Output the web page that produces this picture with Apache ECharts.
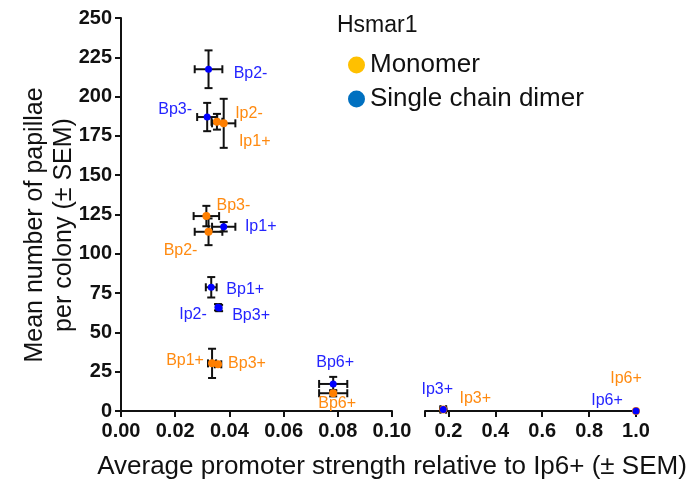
<!DOCTYPE html>
<html>
<head>
<meta charset="utf-8">
<script src="https://cdn.jsdelivr.net/npm/echarts@6/dist/echarts.min.js"></script>
<style>
  html, body { margin: 0; padding: 0; background: #fff; }
  #chart { width: 697px; height: 482px; }
</style>
</head>
<body>
<div id="chart"></div>
<script>
// promoter names, same order in every array below
var monomerNames = ['Ip2-', 'Ip1+', 'Bp3-', 'Bp2-', 'Bp1+', 'Bp3+', 'Bp6+', 'Ip3+', 'Ip6+'];
var monomerX     = [0.0354, 0.0379, 0.0315, 0.0323, 0.0336, 0.0358, 0.0783, 0.178, 1.0];
var monomerY     = [184, 183, 124, 114, 30.3, 29.7, 11.3, 1, 0];
var monomerXErr  = [0.002, 0.0043, 0.0047, 0.0051, 0.0015, 0.0012, 0.0052, 0.012, 0];
var monomerYErr  = [5, 15.6, 6.5, 8.5, 9.3, 1.5, 2, 0.5, 0];

var dimerNames = ['Bp2-', 'Bp3-', 'Ip1+', 'Bp1+', 'Ip2-', 'Bp3+', 'Bp6+', 'Ip3+', 'Ip6+'];
var dimerX     = [0.0323, 0.0318, 0.0379, 0.0333, 0.0358, 0.0362, 0.0783, 0.178, 1.0];
var dimerY     = [217.4, 187, 117.2, 78.7, 66, 65.5, 17.2, 1, 0];
var dimerXErr  = [0.0051, 0.0037, 0.0043, 0.002, 0.0008, 0.0008, 0.0052, 0.012, 0];
var dimerYErr  = [12, 9, 3, 6.5, 2, 2, 4.5, 0.5, 0];

var rightTicks  = [0.1, 0.2, 0.4, 0.6, 0.8, 1.0];
var rightLabels = [0.2, 0.4, 0.6, 0.8, 1.0];

// where each point label sits relative to its point (px)
var monomerLabelOffset = {
    'Ip2-': [32, -8], 'Ip1+': [31, 18], 'Bp3-': [27, -10], 'Bp2-': [-28, 19],
    'Bp1+': [-27, -3], 'Bp3+': [29, -1], 'Bp6+': [4, 10], 'Ip3+': [32, -11], 'Ip6+': [-10, -32]
};
var dimerLabelOffset = {
    'Bp2-': [42, 4], 'Bp3-': [-32, -7], 'Ip1+': [37, 0], 'Bp1+': [34, 2],
    'Ip2-': [-25, 7], 'Bp3+': [32, 8], 'Bp6+': [2, -21], 'Ip3+': [-6, -20], 'Ip6+': [-29, -10]
};

var FONT = 'Liberation Sans, Arial, sans-serif';
var BREAK = 0.1;

function rows(names, xs, ys, xe, ye, right) {
    var out = [];
    for (var i = 0; i < names.length; i++) {
        if ((xs[i] > BREAK) === right) {
            out.push({name: names[i], value: [xs[i], ys[i], xe[i], ye[i]]});
        }
    }
    return out;
}

function renderErr(params, api) {
    var x = api.value(0), y = api.value(1), ex = api.value(2), ey = api.value(3);
    var cap = 4;
    var style = {stroke: '#111', lineWidth: 2};
    var kids = [];
    if (ex > 0) {
        var l = api.coord([x - ex, y]), r = api.coord([x + ex, y]);
        kids.push({type: 'line', shape: {x1: l[0], y1: l[1], x2: r[0], y2: r[1]}, style: style});
        kids.push({type: 'line', shape: {x1: l[0], y1: l[1] - cap, x2: l[0], y2: l[1] + cap}, style: style});
        kids.push({type: 'line', shape: {x1: r[0], y1: r[1] - cap, x2: r[0], y2: r[1] + cap}, style: style});
    }
    if (ey > 0) {
        var t = api.coord([x, y + ey]), b = api.coord([x, y - ey]);
        kids.push({type: 'line', shape: {x1: t[0], y1: t[1], x2: b[0], y2: b[1]}, style: style});
        kids.push({type: 'line', shape: {x1: t[0] - cap, y1: t[1], x2: t[0] + cap, y2: t[1]}, style: style});
        kids.push({type: 'line', shape: {x1: b[0] - cap, y1: b[1], x2: b[0] + cap, y2: b[1]}, style: style});
    }
    return {type: 'group', children: kids};
}

function errSeries(data, idx) {
    return {
        type: 'custom', xAxisIndex: idx, yAxisIndex: idx,
        renderItem: renderErr, encode: {x: 0, y: 1},
        data: data, z: 2, silent: true, clip: false
    };
}

function pointSeries(name, data, idx, color, textColor, size, offsets) {
    return {
        name: name, type: 'scatter', xAxisIndex: idx, yAxisIndex: idx,
        data: data.map(function (d) {
            return {
                name: d.name, value: d.value,
                label: {offset: offsets[d.name]}
            };
        }),
        symbolSize: size, z: 3,
        itemStyle: {color: color, opacity: 1},
        label: {
            show: true, position: 'inside', formatter: '{b}',
            color: textColor, fontFamily: FONT, fontSize: 16
        }
    };
}

var axisLine = {lineStyle: {color: '#111', width: 2}};
var tickStyle = {show: true, length: 6, lineStyle: {color: '#111', width: 2}};
var tickLabel = {color: '#111', fontFamily: FONT, fontSize: 20, fontWeight: 'bold'};

var mLeft = rows(monomerNames, monomerX, monomerY, monomerXErr, monomerYErr, false);
var mRight = rows(monomerNames, monomerX, monomerY, monomerXErr, monomerYErr, true);
var dLeft = rows(dimerNames, dimerX, dimerY, dimerXErr, dimerYErr, false);
var dRight = rows(dimerNames, dimerX, dimerY, dimerXErr, dimerYErr, true);

var orange = '#ff7f00', orangeText = '#ff8a10';
var blue = '#0000ff', blueText = '#2424ff';

var option = {
    animation: false,
    title: {
        text: 'Hsmar1', left: 332, top: 9,
        textStyle: {fontFamily: FONT, fontSize: 23, fontWeight: 'normal', color: '#111'}
    },
    legend: {
        left: 343, top: 47, orient: 'vertical', itemGap: 8,
        icon: 'circle', itemWidth: 17, itemHeight: 17,
        textStyle: {fontFamily: FONT, fontSize: 26, color: '#111'},
        data: [
            {name: 'Monomer', itemStyle: {color: '#ffc000'}},
            {name: 'Single chain dimer', itemStyle: {color: '#0070c0'}}
        ]
    },
    grid: [
        {left: 121, width: 271, top: 18, bottom: 71},
        {left: 425, width: 211, top: 18, bottom: 71}
    ],
    xAxis: [
        {
            gridIndex: 0, type: 'value', min: 0, max: 0.1, interval: 0.02,
            axisLine: axisLine, axisTick: tickStyle, splitLine: {show: false},
            axisLabel: Object.assign({margin: 10, formatter: function (v) { return v.toFixed(2); }}, tickLabel)
        },
        {
            gridIndex: 1, type: 'value', min: 0.1, max: 1.0,
            axisLine: axisLine, splitLine: {show: false},
            axisTick: Object.assign({customValues: rightTicks}, tickStyle),
            axisLabel: Object.assign({margin: 10, customValues: rightLabels,
                formatter: function (v) { return v.toFixed(1); }}, tickLabel)
        }
    ],
    yAxis: [
        {
            gridIndex: 0, type: 'value', min: 0, max: 250, interval: 25,
            axisLine: Object.assign({show: true}, axisLine), axisTick: tickStyle,
            splitLine: {show: false},
            axisLabel: Object.assign({margin: 9}, tickLabel)
        },
        {
            gridIndex: 1, type: 'value', min: 0, max: 250, show: false,
            splitLine: {show: false}
        }
    ],
    graphic: [
        {
            type: 'text', x: 50, y: 225, rotation: Math.PI / 2,
            style: {
                text: 'Mean number of papillae\nper colony (\u00b1 SEM)',
                font: '25px ' + FONT, fill: '#111', align: 'center',
                verticalAlign: 'middle', lineHeight: 29
            }
        },
        {
            type: 'text', x: 392, y: 467,
            style: {
                text: 'Average promoter strength relative to Ip6+ (\u00b1 SEM)',
                font: '26px ' + FONT, fill: '#111', align: 'center', verticalAlign: 'middle'
            }
        }
    ],
    series: [
        errSeries(mLeft, 0), errSeries(dLeft, 0), errSeries(mRight, 1), errSeries(dRight, 1),
        pointSeries('Monomer', mLeft, 0, orange, orangeText, 8, monomerLabelOffset),
        pointSeries('Single chain dimer', dLeft, 0, blue, blueText, 7, dimerLabelOffset),
        pointSeries('Monomer', mRight, 1, orange, orangeText, 8, monomerLabelOffset),
        pointSeries('Single chain dimer', dRight, 1, blue, blueText, 7, dimerLabelOffset)
    ]
};

var chart = echarts.init(document.getElementById('chart'));
chart.setOption(option);
</script>
</body>
</html>
